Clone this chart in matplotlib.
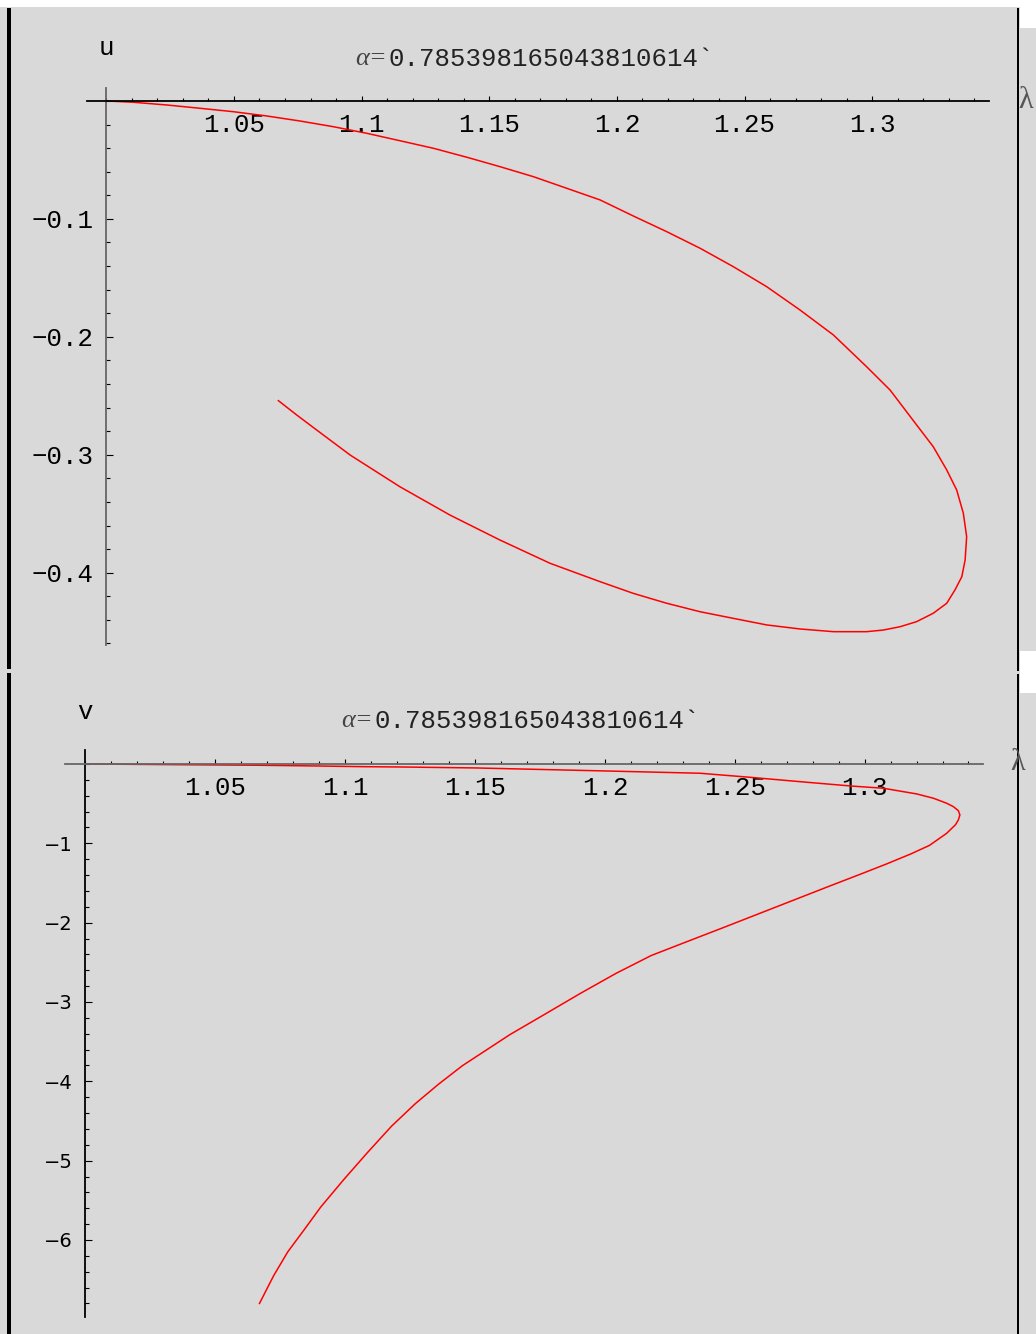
import matplotlib
matplotlib.use("Agg")
import matplotlib.pyplot as plt
from matplotlib.patches import Rectangle
from matplotlib.ticker import MultipleLocator

W, H = 1036, 1334
BG = "#d9d9d9"

# top panel: u against lambda
lam_u = [1.0, 1.0106, 1.0237, 1.0367, 1.0498, 1.0628, 1.0759, 1.0889, 1.1020,
         1.1150, 1.1281, 1.1412, 1.1542, 1.1673, 1.1803, 1.1934, 1.2064, 1.2195,
         1.2326, 1.2456, 1.2587, 1.2717, 1.2848, 1.2978, 1.3070, 1.3174, 1.3239,
         1.3292, 1.3331, 1.3357, 1.3370, 1.3364, 1.3351, 1.3324, 1.3292, 1.3239,
         1.3174, 1.3109, 1.3044, 1.2978, 1.2848, 1.2717, 1.2587, 1.2456, 1.2326,
         1.2195, 1.2064, 1.1934, 1.1738, 1.1542, 1.1346, 1.1150, 1.0955, 1.0824,
         1.0746, 1.0674]
u = [0.0, -0.0011, -0.0034, -0.0062, -0.0091, -0.0127, -0.0170, -0.0218, -0.0274,
     -0.0337, -0.0401, -0.0477, -0.0557, -0.0642, -0.0740, -0.0839, -0.0975, -0.1108,
     -0.1249, -0.1405, -0.1575, -0.1772, -0.1984, -0.2253, -0.2451, -0.2747, -0.2931,
     -0.3129, -0.3299, -0.3496, -0.3695, -0.3892, -0.4034, -0.4147, -0.4259, -0.4344,
     -0.4415, -0.4458, -0.4486, -0.4500, -0.4500, -0.4477, -0.4443, -0.4387, -0.4331,
     -0.4259, -0.4175, -0.4076, -0.3920, -0.3723, -0.3511, -0.3271, -0.3002, -0.2790,
     -0.2663, -0.2541]

# bottom panel: v against lambda
lam_v = [1.0, 1.0351, 1.0659, 1.0884, 1.1070, 1.1211, 1.1500, 1.1750, 1.2000,
         1.2366, 1.2559, 1.2751, 1.2944, 1.3072, 1.3201, 1.3265, 1.3316, 1.3342,
         1.3361, 1.3367, 1.3361, 1.3350, 1.3316, 1.3250, 1.3178, 1.3087, 1.2996,
         1.2859, 1.2723, 1.2587, 1.2451, 1.2314, 1.2178, 1.2042, 1.1905, 1.1769,
         1.1633, 1.1542, 1.1451, 1.1360, 1.1270, 1.1179, 1.1088, 1.0997, 1.0906,
         1.0843, 1.0779, 1.0724, 1.0670]
v = [0.0, -0.009, -0.016, -0.025, -0.034, -0.038, -0.050, -0.069, -0.088,
     -0.117, -0.168, -0.223, -0.277, -0.306, -0.378, -0.432, -0.495, -0.538,
     -0.589, -0.643, -0.706, -0.766, -0.874, -1.026, -1.134, -1.257, -1.374,
     -1.547, -1.721, -1.895, -2.069, -2.242, -2.415, -2.641, -2.893, -3.154,
     -3.414, -3.609, -3.804, -4.035, -4.282, -4.564, -4.890, -5.229, -5.584,
     -5.867, -6.149, -6.453, -6.800]

x_ticks = [1.05, 1.1, 1.15, 1.2, 1.25, 1.3]
x_labels = ["1.05", "1.1", "1.15", "1.2", "1.25", "1.3"]
u_ticks = [-0.1, -0.2, -0.3, -0.4]
u_labels = ["\u22120.1", "\u22120.2", "\u22120.3", "\u22120.4"]
v_ticks = [-1, -2, -3, -4, -5, -6]
v_labels = ["\u22121", "\u22122", "\u22123", "\u22124", "\u22125", "\u22126"]
alpha_text = "0.785398165043810614`"

MONO = "Liberation Mono"
SERIF = "Liberation Serif"


def fx(x):
    return x / W


def fy(y):
    return 1 - y / H


def prect(x0, y0, x1, y1, color):
    fig.add_artist(Rectangle((fx(x0), fy(y1)), (x1 - x0) / W, (y1 - y0) / H,
                             transform=fig.transFigure, facecolor=color,
                             edgecolor="none", zorder=0))


def px_axes(left, top, right, bottom):
    return fig.add_axes([fx(left), fy(bottom), (right - left) / W, (bottom - top) / H])


def style(ax, xcol, ycol, yfamily, ysize, yminor):
    ax.set_facecolor("none")
    for s in ("top", "right"):
        ax.spines[s].set_visible(False)
    ax.spines["left"].set_position(("data", 1.0))
    ax.spines["bottom"].set_position(("data", 0.0))
    ax.spines["bottom"].set_color(xcol)
    ax.spines["left"].set_color(ycol)
    ax.spines["bottom"].set_linewidth(1.3)
    ax.spines["left"].set_linewidth(1.3)
    ax.xaxis.set_ticks_position("bottom")
    ax.yaxis.set_ticks_position("left")
    ax.set_xticks(x_ticks, x_labels)
    ax.xaxis.set_minor_locator(MultipleLocator(0.01))
    ax.yaxis.set_minor_locator(MultipleLocator(yminor))
    ax.tick_params(axis="x", which="major", direction="in", length=3.8, width=0.8,
                   pad=9, labelsize=18.5, colors="black")
    ax.tick_params(axis="x", which="minor", direction="in", length=2.4, width=0.8)
    ax.tick_params(axis="y", which="major", direction="in", length=4.8, width=0.8,
                   pad=9.4, labelsize=ysize, colors="black")
    ax.tick_params(axis="y", which="minor", direction="in", length=2.9, width=0.8)
    for t in ax.get_xticklabels():
        t.set_family(MONO)
    for t in ax.get_yticklabels():
        t.set_family(yfamily)


fig = plt.figure(figsize=(W / 100, H / 100), dpi=100, facecolor=BG)

# frame pieces of the notebook screenshot
prect(0, 0, W, 7, "white")
prect(1019.5, 0, W, 28, "white")
prect(1019.5, 651, W, 693, "white")
prect(7.3, 8, 10.7, 669, "black")
prect(7.3, 673, 10.7, H, "black")
prect(1016.7, 8, 1019, 671, "black")
prect(1016.7, 674, 1019, H, "black")

# top panel
ax1 = px_axes(86.7, 88, 989.3, 645)
ax1.plot(lam_u, u, color="#ff0000", lw=1.1)
ax1.set_xlim(0.99232, 1.34587)
ax1.set_ylim(-0.4613, 0.011)
ax1.set_yticks(u_ticks, u_labels)
style(ax1, "black", "#666666", MONO, 18.5, 0.02)

# bottom panel
ax2 = px_axes(65, 750, 983.3, 1316.7)
ax2.plot(lam_v, v, color="#ff0000", lw=1.1)
ax2.set_xlim(0.99211, 1.34571)
ax2.set_ylim(-6.967, 0.176)
ax2.set_yticks(v_ticks, v_labels)
style(ax2, "#666666", "black", "DejaVu Sans", 14, 0.2)

# titles and axis names
for y, xstart in ((59, 389), (721, 375)):
    fig.text(fx(xstart - 2), fy(y), "\u03b1=", family=SERIF, style="italic",
             size=19, color="#444444", ha="right", va="center")
    fig.text(fx(xstart), fy(y), alpha_text, family=MONO, size=18.5,
             color="#222222", ha="left", va="center")

fig.text(fx(106), fy(48), "u", family=MONO, size=18.5, ha="center", va="center")
fig.text(fx(85), fy(712), "v", family=MONO, size=18.5, ha="center", va="center")
fig.text(fx(1026), fy(100), "\u03bb", family=SERIF, size=22, color="#555555",
         ha="center", va="center")
fig.text(fx(1018), fy(762), "\u03bb", family=SERIF, size=22, color="#555555",
         ha="center", va="center")

fig.savefig("out.png", dpi=100, facecolor=BG)
